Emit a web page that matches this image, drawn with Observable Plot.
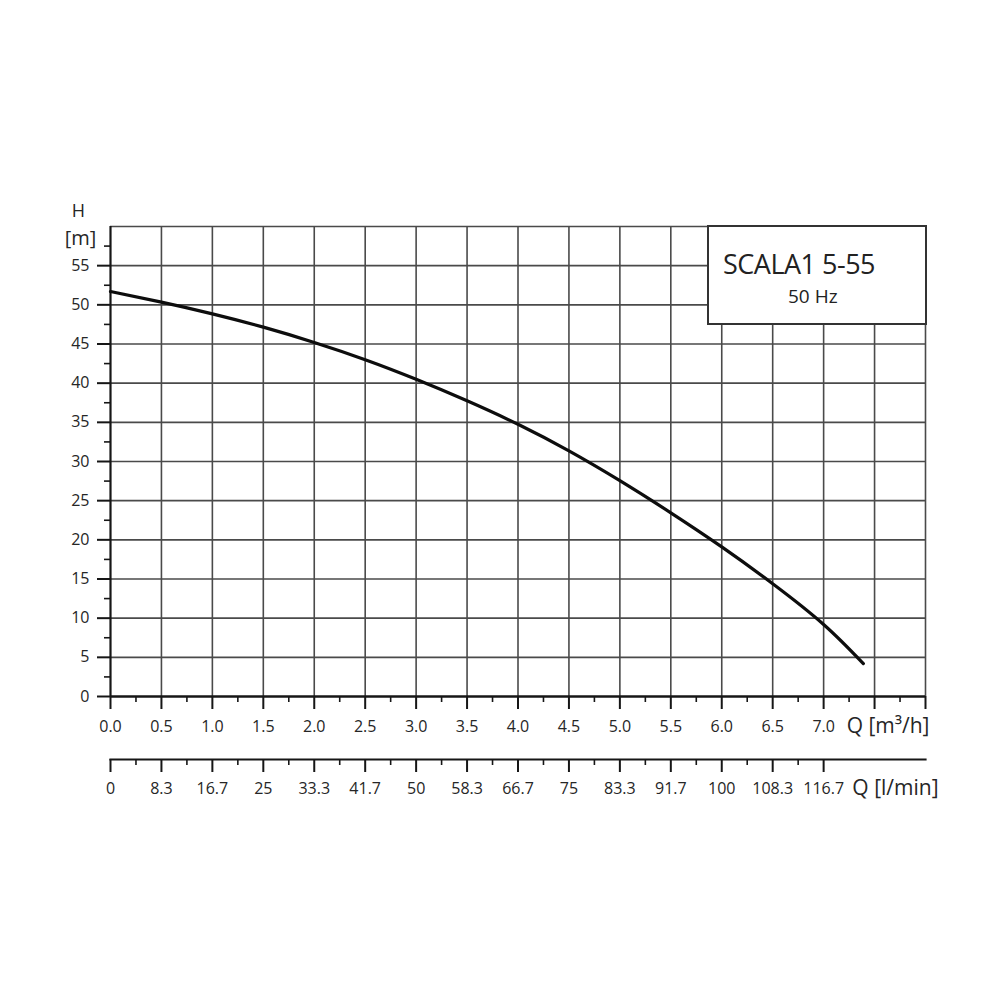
<!DOCTYPE html>
<html>
<head>
<meta charset="utf-8">
<script src="https://cdn.jsdelivr.net/npm/d3@7"></script>
<script src="https://cdn.jsdelivr.net/npm/@observablehq/plot@0.6"></script>
<style>
  html, body { margin: 0; padding: 0; background: #fff; }
  #wrap { position: relative; width: 1000px; height: 1000px; background: #fff; font-family: "Open Sans", "Noto Sans", sans-serif; }
  #wrap svg { display: block; }
  #legend { position: absolute; left: 707px; top: 225px; width: 216px; height: 96px; background: #fff; border: 2px solid #333; color: #222; }
  #legend .t1 { position: absolute; left: 14px; top: 18px; font-size: 27px; letter-spacing: -0.5px; white-space: nowrap; }
  #legend .t2 { position: absolute; left: 79px; top: 56px; font-size: 19px; white-space: nowrap; }
</style>
</head>
<body>
<div id="wrap">
  <div id="main"></div>
  <div id="second"></div>
  <div id="legend"><div class="t1">SCALA1 5-55</div><div class="t2">50 Hz</div></div>
</div>
<script>
// Pump curve data (flow Q in m³/h, head H in m)
const flowQ = [0, 0.5, 1.0, 1.5, 2.0, 2.5, 3.0, 3.5, 4.0, 4.5, 5.0, 5.5, 6.0, 6.5, 7.0, 7.39];
const headH = [51.7, 50.35, 48.85, 47.15, 45.2, 43.0, 40.5, 37.75, 34.75, 31.35, 27.55, 23.45, 19.1, 14.4, 9.2, 4.2];

// Tick values and labels
const xMajorTicks = [0, 0.5, 1.0, 1.5, 2.0, 2.5, 3.0, 3.5, 4.0, 4.5, 5.0, 5.5, 6.0, 6.5, 7.0, 7.5, 8.0];
const m3hLabels = ["0.0", "0.5", "1.0", "1.5", "2.0", "2.5", "3.0", "3.5", "4.0", "4.5", "5.0", "5.5", "6.0", "6.5", "7.0"];
const lminLabels = ["0", "8.3", "16.7", "25", "33.3", "41.7", "50", "58.3", "66.7", "75", "83.3", "91.7", "100", "108.3", "116.7"];
const yMajorTicks = [0, 5, 10, 15, 20, 25, 30, 35, 40, 45, 50, 55];
const yGridLines = [5, 10, 15, 20, 25, 30, 35, 40, 45, 50, 55, 60];

const xLabelMap = new Map(xMajorTicks.map((d, i) => [d, m3hLabels[i] ?? ""]));
const lminTicks = xMajorTicks.slice(0, lminLabels.length);
const lminMap = new Map(lminTicks.map((d, i) => [d, lminLabels[i]]));
const xMinorTicks = xMajorTicks.slice(0, -1).map(d => d + 0.25);
const lminMinorTicks = lminTicks.slice(0, -1).map(d => d + 0.25);
const yMinorTicks = yMajorTicks.map(d => d + 2.5);

const points = flowQ.map((q, i) => ({q, h: headH[i]}));

const gridColor = "#4a4a4a";
const ink = "#161616";
const textColor = "#262626";

const main = Plot.plot({
  width: 1000,
  height: 740,
  marginTop: 226,
  marginBottom: 44,
  marginLeft: 110,
  marginRight: 75,
  x: {domain: [0, 8]},
  y: {domain: [0, 60]},
  style: {fontFamily: "'Open Sans', 'Noto Sans', sans-serif", fontSize: "16px", color: textColor, background: "#fff", overflow: "visible"},
  marks: [
    Plot.ruleX(xMajorTicks.slice(1), {stroke: gridColor, strokeWidth: 1.6}),
    Plot.ruleY(yGridLines, {stroke: gridColor, strokeWidth: 1.6}),
    Plot.ruleX([0], {stroke: ink, strokeWidth: 2.2}),
    Plot.ruleY([0], {stroke: ink, strokeWidth: 2.6}),
    Plot.axisX(xMajorTicks, {anchor: "bottom", tickSize: 13, tickPadding: 11, strokeWidth: 2, stroke: ink, fontSize: 16, tickFormat: d => xLabelMap.get(d), label: null}),
    Plot.axisX(xMinorTicks, {anchor: "bottom", tickSize: 6, strokeWidth: 1.6, stroke: ink, tickFormat: () => "", label: null}),
    Plot.axisY(yMajorTicks, {anchor: "left", tickSize: 13, tickPadding: 8, strokeWidth: 2, stroke: ink, fontSize: 16, tickFormat: d => String(d), label: null}),
    Plot.axisY(yMinorTicks, {anchor: "left", tickSize: 6, strokeWidth: 1.6, stroke: ink, tickFormat: () => "", label: null}),
    Plot.line(points, {x: "q", y: "h", curve: "natural", stroke: "#0d0d0d", strokeWidth: 3.2}),
    Plot.text(["Q [m³/h]"], {frameAnchor: "bottom-right", textAnchor: "end", lineAnchor: "middle", dx: 4, dy: 30, fontSize: 21, fill: textColor}),
    Plot.text(["H"], {frameAnchor: "top-left", textAnchor: "middle", lineAnchor: "middle", dx: -32, dy: -15, fontSize: 18, fill: textColor}),
    Plot.text(["[m]"], {frameAnchor: "top-left", textAnchor: "middle", lineAnchor: "middle", dx: -30, dy: 12, fontSize: 20, fill: textColor})
  ]
});
document.getElementById("main").appendChild(main);

const second = Plot.plot({
  width: 1000,
  height: 80,
  marginTop: 19,
  marginBottom: 61,
  marginLeft: 110,
  marginRight: 75,
  x: {domain: [0, 8]},
  style: {fontFamily: "'Open Sans', 'Noto Sans', sans-serif", fontSize: "16px", color: textColor, background: "#fff", overflow: "visible"},
  marks: [
    Plot.frame({anchor: "bottom", stroke: ink, strokeWidth: 2.2}),
    Plot.axisX(lminTicks, {anchor: "bottom", tickSize: 13, tickPadding: 10, strokeWidth: 2, stroke: ink, fontSize: 16, tickFormat: d => lminMap.get(d), label: null}),
    Plot.axisX(lminMinorTicks, {anchor: "bottom", tickSize: 6, strokeWidth: 1.6, stroke: ink, tickFormat: () => "", label: null}),
    Plot.text(["Q [l/min]"], {frameAnchor: "bottom-right", textAnchor: "end", lineAnchor: "middle", dx: 13, dy: 29, fontSize: 21, fill: textColor})
  ]
});
document.getElementById("second").appendChild(second);
</script>
</body>
</html>
